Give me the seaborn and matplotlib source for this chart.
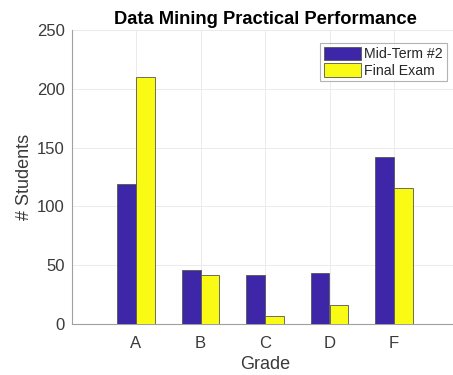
import matplotlib
matplotlib.use("Agg")
import matplotlib.pyplot as plt
import seaborn as sns
import pandas as pd

grades = ["A", "B", "C", "D", "F"]
midterm = [119, 46, 42, 43, 142]
final_exam = [210, 42, 7, 16, 116]
series_names = ["Mid-Term #2", "Final Exam"]
colors = ["#3E26A8", "#F9FB15"]

df = pd.DataFrame({
    "Grade": grades * 2,
    "Students": midterm + final_exam,
    "Series": [series_names[0]] * len(grades) + [series_names[1]] * len(grades),
})

sns.set_style("white")
plt.rcParams["font.family"] = ["Liberation Sans", "DejaVu Sans"]

fig = plt.figure(figsize=(4.53, 3.75), dpi=100)
ax = fig.add_axes([71.5 / 453, 51 / 375, 387 / 453, 294 / 375])

sns.barplot(data=df, x="Grade", y="Students", hue="Series", order=grades,
            hue_order=series_names, palette=colors, saturation=1, width=0.58, gap=0,
            edgecolor="#555555", linewidth=0.6, ax=ax, zorder=3)

ax.set_xlim(-1, 5)
ax.set_ylim(0, 250)
ax.set_yticks([0, 50, 100, 150, 200, 250])
ax.set_xticks(range(len(grades)))
ax.set_xticklabels(grades)
ax.grid(True, color="#ebebeb", linewidth=0.7, zorder=0)
ax.set_axisbelow(True)
for s in ["top", "right"]:
    ax.spines[s].set_visible(False)
for s in ["left", "bottom"]:
    ax.spines[s].set_color("#a0a0a0")
    ax.spines[s].set_linewidth(0.8)
ax.tick_params(axis="both", labelsize=12, colors="#3a3a3a", length=0)
ax.tick_params(axis="x", pad=9)
ax.tick_params(axis="y", pad=5)
ax.set_xlabel("Grade", fontsize=13, color="#3a3a3a", labelpad=3)
ax.set_ylabel("# Students", fontsize=13, color="#3a3a3a", labelpad=3)
ax.set_title("Data Mining Practical Performance", fontsize=13.2, fontweight="bold",
             color="black", pad=4)

leg = ax.legend(loc="upper right", bbox_to_anchor=(1 - 12 / 387, 1 - 13 / 294),
                fontsize=10.2, frameon=True, fancybox=False, edgecolor="#a0a0a0",
                handlelength=2.6, handleheight=1.1, handletextpad=0.25,
                borderpad=0.25, labelspacing=0.15, borderaxespad=0)
leg.get_frame().set_linewidth(0.8)
for t in leg.get_texts():
    t.set_color("#262626")

fig.savefig("out.png", dpi=100)
